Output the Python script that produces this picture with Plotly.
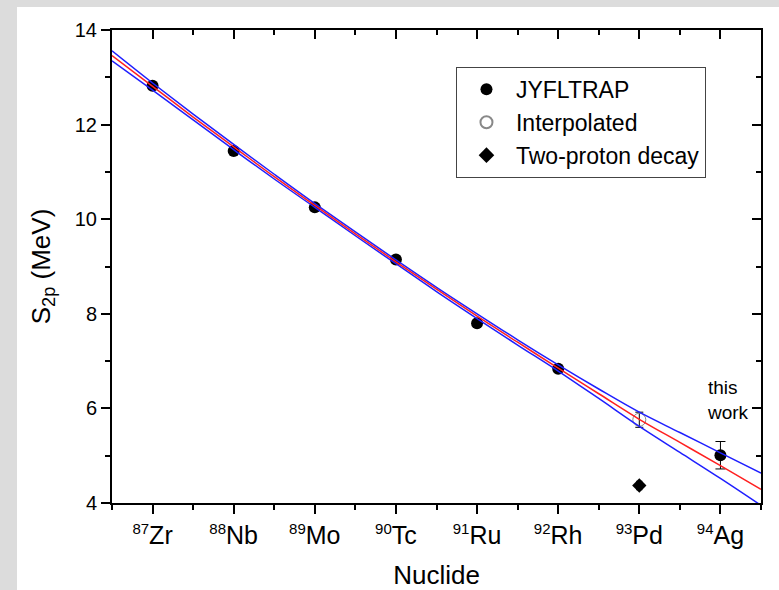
import plotly.graph_objects as go

# ---- data ----
mass_numbers = [87, 88, 89, 90, 91, 92, 93, 94]
mass_labels = ["87", "88", "89", "90", "91", "92", "93", "94"]
element_labels = ["Zr", "Nb", "Mo", "Tc", "Ru", "Rh", "Pd", "Ag"]

jyfl_x = [87, 88, 89, 90, 91, 92]
jyfl_s2p = [12.82, 11.44, 10.25, 9.15, 7.80, 6.84]

thiswork_x = [94]
thiswork_s2p = [5.01]
thiswork_err = [0.29]

interp_x = [93]
interp_s2p = [5.76]
interp_err = [0.16]

twop_x = [93]
twop_s2p = [4.37]
twop_err = [0.07]

fit_x = [86.5, 87, 87.5, 88, 88.5, 89, 89.5, 90, 90.5, 91, 91.5, 92, 92.5, 93, 93.5, 94, 94.5]
fit_mid = [13.46, 12.81, 12.16, 11.53, 10.90, 10.29, 9.69, 9.10, 8.52, 7.95, 7.40, 6.85, 6.31, 5.77, 5.28, 4.79, 4.29]
fit_upper = [13.56, 12.88, 12.22, 11.58, 10.95, 10.33, 9.73, 9.14, 8.56, 8.00, 7.45, 6.92, 6.41, 5.92, 5.49, 5.06, 4.63]
fit_lower = [13.35, 12.73, 12.10, 11.47, 10.85, 10.25, 9.65, 9.06, 8.47, 7.90, 7.34, 6.79, 6.21, 5.62, 5.07, 4.52, 3.95]

FONT = "Liberation Sans, Arial, sans-serif"

tick_text = ['<sup><span style="font-size:15px">%s</span></sup>%s' % (m, e)
             for m, e in zip(mass_labels, element_labels)]

fig = go.Figure()

fig.add_trace(go.Scatter(x=jyfl_x, y=jyfl_s2p, mode="markers", name="JYFLTRAP",
                         marker=dict(symbol="circle", size=12, color="black")))
fig.add_trace(go.Scatter(x=interp_x, y=interp_s2p, mode="markers", name="Interpolated",
                         marker=dict(symbol="circle-open", size=13, color="#888888", line=dict(width=1)),
                         error_y=dict(type="data", array=interp_err, color="black", thickness=1, width=4)))
fig.add_trace(go.Scatter(x=twop_x, y=twop_s2p, mode="markers", name="Two-proton decay",
                         marker=dict(symbol="diamond", size=11, color="black"),
                         error_y=dict(type="data", array=twop_err, color="black", thickness=3, width=3)))
fig.add_trace(go.Scatter(x=thiswork_x, y=thiswork_s2p, mode="markers", showlegend=False,
                         marker=dict(symbol="circle", size=12, color="black"),
                         error_y=dict(type="data", array=thiswork_err, color="black", thickness=1, width=5)))

for ys, col in [(fit_upper, "#1f1fff"), (fit_lower, "#1f1fff"), (fit_mid, "#ff2020")]:
    fig.add_trace(go.Scatter(x=fit_x, y=ys, mode="lines", showlegend=False, hoverinfo="skip",
                             line=dict(color=col, width=1.5, shape="spline")))

# dummy trace to activate mirror axes
fig.add_trace(go.Scatter(x=[None], y=[None], xaxis="x2", yaxis="y2", showlegend=False))

axis_common = dict(showline=True, linecolor="black", linewidth=2, showgrid=False, zeroline=False,
                   tickcolor="black", tickwidth=2, ticklen=9)

x_minor = [x + 0.5 for x in range(86, 95)]
y_minor = [5, 7, 9, 11, 13]

fig.update_layout(
    width=779, height=590,
    margin=dict(l=112, r=18, t=30, b=87, autoexpand=False),
    paper_bgcolor="#dcdcdc", plot_bgcolor="white",
    font=dict(family=FONT, color="black"),
    xaxis=dict(range=[86.5, 94.5], tickvals=mass_numbers, ticktext=tick_text, ticks="outside",
               tickfont=dict(size=25), title=dict(text="Nuclide", font=dict(size=26), standoff=30),
               minor=dict(tickmode="array", tickvals=x_minor, ticks="outside",
                          ticklen=5, tickwidth=2, tickcolor="black"),
               **axis_common),
    yaxis=dict(range=[4, 14], tickvals=[4, 6, 8, 10, 12, 14], ticks="outside",
               tickfont=dict(size=20), title=dict(text="S<sub>2p</sub> (MeV)", font=dict(size=26), standoff=17),
               minor=dict(tickmode="array", tickvals=y_minor, ticks="outside",
                          ticklen=5, tickwidth=2, tickcolor="black"),
               **axis_common),
    xaxis2=dict(range=[86.5, 94.5], overlaying="x", side="top", ticks="inside", showticklabels=False,
                tickvals=mass_numbers,
                minor=dict(tickmode="array", tickvals=x_minor, ticks="inside",
                           ticklen=5, tickwidth=2, tickcolor="black"),
                **axis_common),
    yaxis2=dict(range=[4, 14], overlaying="y", side="right", ticks="inside", showticklabels=False,
                tickvals=[4, 6, 8, 10, 12, 14],
                minor=dict(tickmode="array", tickvals=y_minor, ticks="inside",
                           ticklen=5, tickwidth=2, tickcolor="black"),
                **axis_common),
    legend=dict(x=0.530, y=0.922, xanchor="left", yanchor="top", bgcolor="white",
                bordercolor="#444444", borderwidth=1, font=dict(size=23), tracegroupgap=0,
                itemsizing="constant", itemwidth=49),
    shapes=[dict(type="rect", xref="paper", yref="paper", x0=-0.1464, x1=1.1, y0=-0.3, y1=1.0486,
                 fillcolor="white", line=dict(width=0), layer="below")],
    annotations=[dict(x=93.81, y=6.17, xref="x", yref="y", text="this<br>work", showarrow=False,
                      xanchor="left", yanchor="middle", align="left", font=dict(size=19))],
)

fig.write_html("out.html")
